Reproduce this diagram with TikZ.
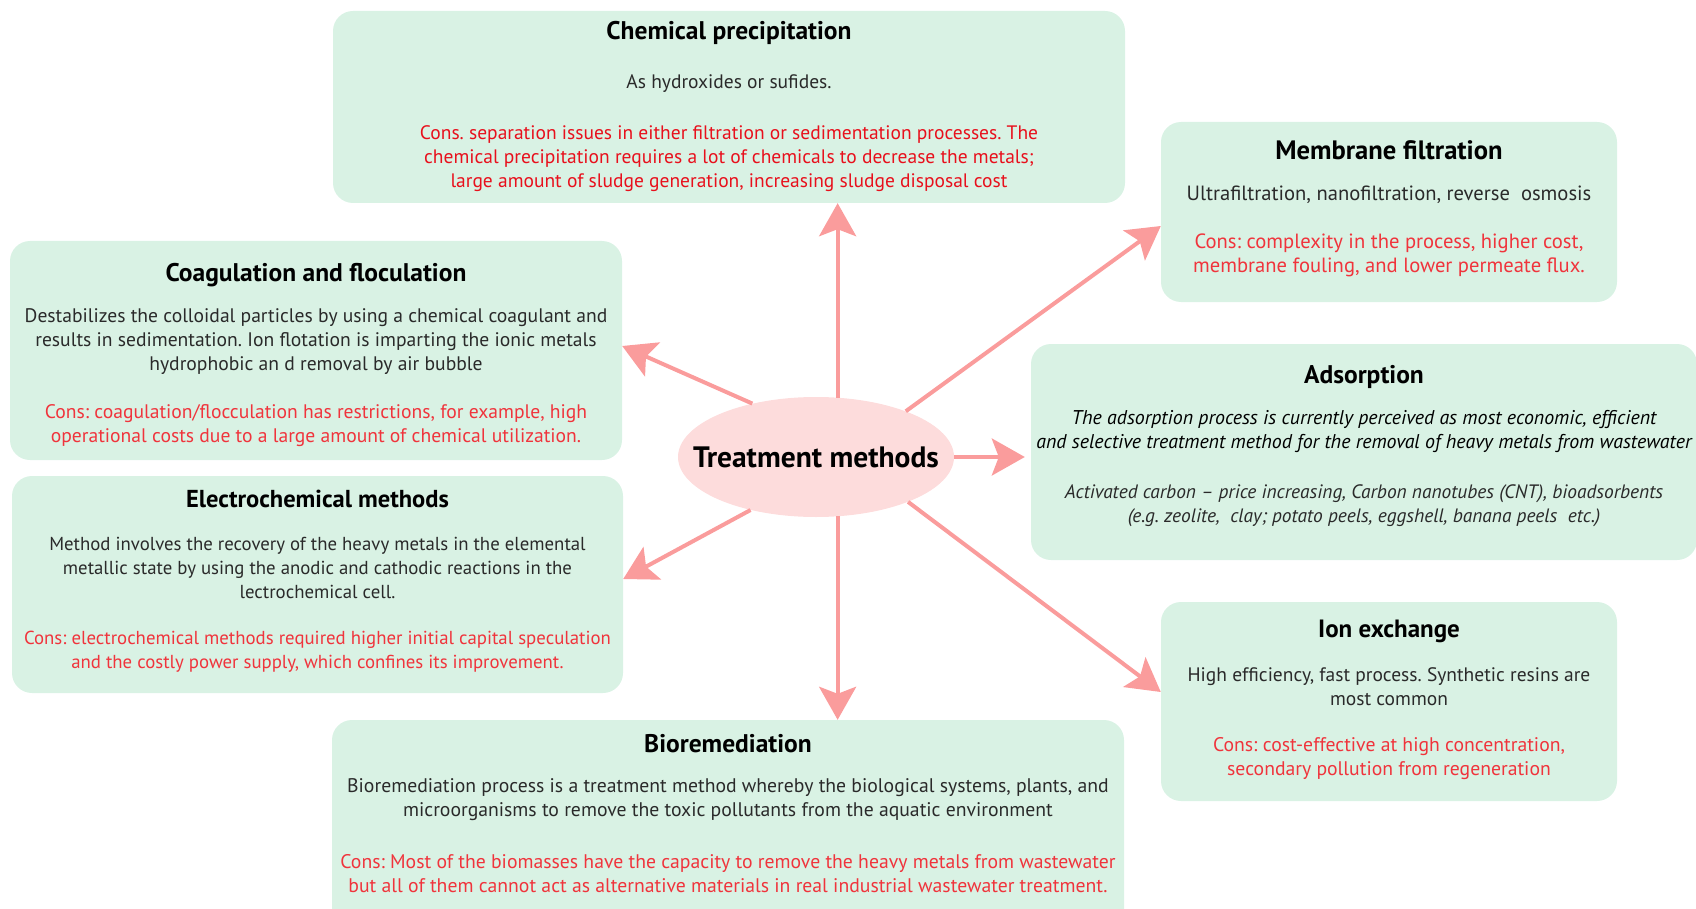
\documentclass[tikz,border=0pt]{standalone}
\usepackage{fontspec}
\setmainfont{PT Sans}
\usetikzlibrary{arrows.meta,shapes.geometric}
\definecolor{boxfill}{HTML}{D9F2E4}
\definecolor{arrowc}{HTML}{FA9C9C}
\definecolor{ellfill}{HTML}{FDDCDC}
\definecolor{bodyc}{HTML}{2A2A2A}
\definecolor{consc}{HTML}{F0343C}
\definecolor{consc2}{HTML}{E8101C}
\begin{document}
\frenchspacing
\begin{tikzpicture}[x=1pt,y=-1pt,
  box/.style={draw=none, fill=boxfill, rounded corners=20pt, inner sep=0pt},
  ttl/.style={font=\fontsize{#1}{28}\selectfont\bfseries, text=black, inner sep=0pt},
  ttl/.default=25.5,
  body/.style={font=\fontsize{#1}{24}\selectfont, text=bodyc, align=center, inner sep=0pt},
  body/.default=19.5,
  cons/.style={body=#1, text=consc},
  cons/.default=19.5,
  ital/.style={font=\fontsize{#1}{24}\selectfont\itshape, text=bodyc, align=center, inner sep=0pt},
  arr/.style={draw=arrowc, line width=4pt, -{Stealth[length=33pt,width=37pt,inset=7pt]}}
]
\useasboundingbox (0,0) rectangle (1696,909);

% boxes
\node[box, minimum width=792pt, minimum height=192pt] (cp) at (729,107) {};
\node[box, minimum width=612pt, minimum height=219pt] (cf) at (316,350.5) {};
\node[box, minimum width=611pt, minimum height=217pt] (ec) at (317.5,584.5) {};
\node[box, minimum width=792pt, minimum height=220pt] (bio) at (728,830) {};
\node[box, minimum width=456pt, minimum height=180pt] (mf) at (1389,212) {};
\node[box, minimum width=666pt, minimum height=216pt] (ads) at (1364,452) {};
\node[box, minimum width=456pt, minimum height=199pt] (ie) at (1389,701.5) {};

% centre
\node[ellipse, fill=ellfill, minimum width=276pt, minimum height=120pt, inner sep=0pt] (tm) at (816,457) {};
\node[font=\fontsize{29.5}{32}\selectfont\bfseries, inner sep=0pt] (tmt) at (tm.center) {Treatment methods};

% arrows
\draw[arr] (tm.70.5) -- (tm.70.5 |- cp.south);
\draw[arr] (tm.-70.5) -- (tm.-70.5 |- bio.north);
\draw[arr, shorten >=6pt] (tm.east) -- (tm.east -| ads.west);
\draw[arr] (tm.27) -- ([yshift=-14pt]mf.west);
\draw[arr] (tm.-26) -- ([yshift=9.5pt]ie.west);
\draw[arr] (tm.140) -- ([yshift=4.5pt]cf.east);
\draw[arr] (tm.219) -- ([yshift=5.5pt]ec.east);

% Chemical precipitation
\node[ttl] (cpt) at (729,33) {Chemical precipitation};
\node[body] (cpb) at (729,84) {As hydroxides or sufides.};
\node[cons, text=consc2] (cpc) at (729,159) {Cons. separation issues in either filtration or sedimentation processes. The\\chemical precipitation requires a lot of chemicals to decrease the metals;\\large amount of sludge generation, increasing sludge disposal cost};

% Coagulation
\node[ttl] (cft) at (316,275) {Coagulation and floculation};
\node[body=19.6] (cfb) at (316,342) {Destabilizes the colloidal particles by using a chemical coagulant and\\results in sedimentation. Ion flotation is imparting the ionic metals\\hydrophobic an d removal by air bubble};
\node[cons=19.6] (cfc) at (316,426) {Cons: coagulation/flocculation has restrictions, for example, high\\operational costs due to a large amount of chemical utilization.};

% Electrochemical
\node[ttl=24.5] (ect) at (317.5,499) {Electrochemical methods};
\node[body=18.8] (ecb) at (317.5,568) {Method involves the recovery of the heavy metals in the elemental\\metallic state by using the anodic and cathodic reactions in the\\lectrochemical cell.};
\node[cons=18.8] (ecc) at (317.5,652) {Cons: electrochemical methods required higher initial capital speculation\\and the costly power supply, which confines its improvement.};

% Bioremediation
\node[ttl] (biot) at (728,744) {Bioremediation};
\node[body=19.7] (biob) at (728,800) {Bioremediation process is a treatment method whereby the biological systems, plants, and\\microorganisms to remove the toxic pollutants from the aquatic environment};
\node[cons=19.7] (bioc) at (728,874) {Cons: Most of the biomasses have the capacity to remove the heavy metals from wastewater\\but all of them cannot act as alternative materials in real industrial wastewater treatment.};

% Membrane filtration
\node[ttl=26.6] (mft) at (1389,150) {Membrane filtration};
\node[body=20.6] (mfb) at (1389,195) {Ultrafiltration, nanofiltration, reverse\ \ osmosis};
\node[cons=20.6] (mfc) at (1389,255.5) {Cons: complexity in the process, higher cost,\\membrane fouling, and lower permeate flux.};

% Adsorption
\node[ttl] (adt) at (1364,377) {Adsorption};
\node[ital=19.9, text=black] (adb) at (1364,431.5) {The adsorption process is currently perceived as most economic, efficient\\and selective treatment method for the removal of heavy metals from wastewater};
\node[ital=19.4] (adc) at (1364,506) {Activated carbon -- price increasing, Carbon nanotubes (CNT), bioadsorbents\\(e.g. zeolite,\ \ clay; potato peels, eggshell, banana peels\ \ etc.)};

% Ion exchange
\node[ttl=25] (iet) at (1389,631) {Ion exchange};
\node[body=19.5] (ieb) at (1389,686.5) {High efficiency, fast process. Synthetic resins are\\most common};
\node[cons=19.7] (iec) at (1389,759) {Cons: cost-effective at high concentration,\\secondary pollution from regeneration};
\end{tikzpicture}
\end{document}
